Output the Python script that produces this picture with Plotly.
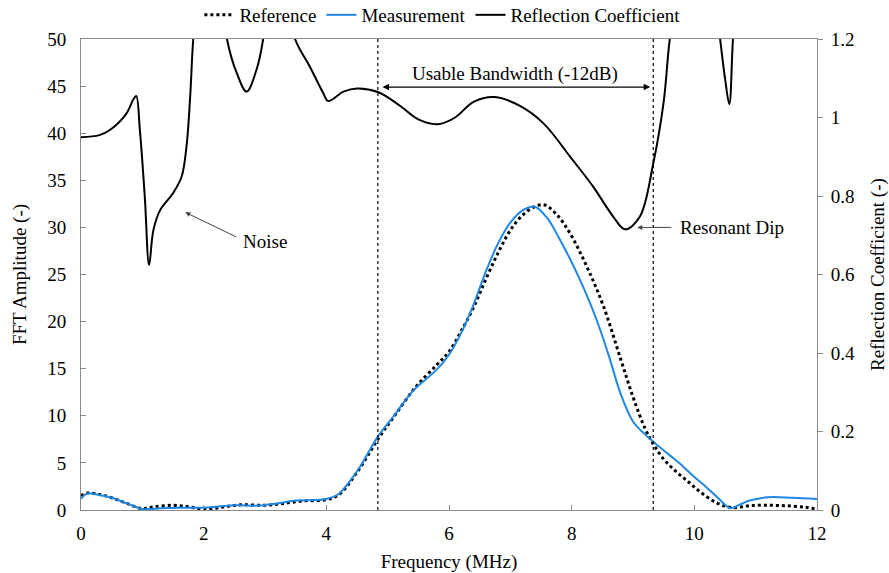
import plotly.graph_objects as go

# Reference FFT spectrum (left axis)
ref_freq = [0.0, 0.1, 0.3, 0.5, 0.75, 1.0, 1.2, 1.5, 1.75, 2.0, 2.3, 2.6, 3.0, 3.3, 3.6,
            4.0, 4.2, 4.5, 4.85, 5.1, 5.45, 5.8, 6.0, 6.2, 6.4, 6.6, 6.8, 7.0, 7.2, 7.4,
            7.55, 7.75, 7.97, 8.25, 8.52, 8.8, 9.0, 9.2, 9.33, 9.5, 9.7, 9.9, 10.1,
            10.37, 10.63, 10.9, 11.2, 11.5, 11.8, 12.0]
ref_amp = [1.5, 1.8, 1.65, 1.3, 0.7, 0.15, 0.35, 0.5, 0.35, 0.05, 0.3, 0.55, 0.5, 0.7, 0.95,
           1.1, 1.6, 4.0, 7.6, 9.9, 13.0, 15.4, 16.8, 19.0, 21.5, 24.5, 27.3, 29.7, 31.3,
           32.2, 32.4, 31.4, 29.4, 25.8, 21.6, 16.0, 12.0, 8.6, 7.0, 5.4, 4.1, 3.0, 1.9,
           0.74, 0.25, 0.46, 0.5, 0.45, 0.3, 0.1]

# Measured FFT spectrum (left axis)
meas_freq = [0.0, 0.1, 0.3, 0.5, 0.75, 1.0, 1.3, 1.6, 2.0, 2.5, 2.9, 3.2, 3.5, 3.8, 4.0,
             4.2, 4.4, 4.55, 4.85, 5.09, 5.42, 5.8, 6.0, 6.2, 6.4, 6.6, 6.8, 7.0, 7.2,
             7.4, 7.6, 7.8, 8.0, 8.2, 8.4, 8.6, 8.8, 9.0, 9.2, 9.33, 9.6, 9.82, 10.0,
             10.2, 10.4, 10.58, 10.75, 10.9, 11.2, 11.6, 12.0]
meas_amp = [1.2, 1.75, 1.6, 1.3, 0.7, 0.1, 0.18, 0.25, 0.24, 0.5, 0.47, 0.7, 1.0, 1.05, 1.17,
            1.7, 3.2, 4.6, 7.9, 9.9, 12.7, 14.9, 16.5, 18.8, 21.8, 25.3, 28.3, 30.5, 31.8,
            32.2, 31.0, 28.8, 26.3, 23.5, 20.3, 16.5, 12.3, 9.4, 8.0, 7.25, 5.8, 4.6, 3.5,
            2.4, 1.2, 0.2, 0.6, 1.0, 1.35, 1.3, 1.17]

# Reflection coefficient (right axis)
refl_freq = [0.0, 0.3, 0.47, 0.74, 0.85, 0.9, 0.96, 1.04, 1.11, 1.18, 1.29, 1.5, 1.64,
             1.72, 1.78, 1.83, 2.0, 2.2, 2.38, 2.54, 2.7, 2.86, 2.97, 3.1, 3.3, 3.49,
             3.73, 3.95, 4.03, 4.28, 4.5, 4.84, 5.2, 5.5, 5.82, 6.1, 6.4, 6.75, 7.15,
             7.54, 8.0, 8.35, 8.68, 8.87, 9.11, 9.33, 9.5, 9.6, 9.8, 10.1, 10.3, 10.42,
             10.5, 10.57, 10.63, 10.75, 11.0, 12.0]
refl_coef = [0.95, 0.955, 0.968, 1.01, 1.045, 1.055, 0.968, 0.798, 0.624, 0.713, 0.764,
             0.807, 0.849, 0.926, 1.053, 1.2, 1.5, 1.45, 1.2, 1.113, 1.066, 1.121, 1.2,
             1.4, 1.35, 1.2, 1.13, 1.062, 1.042, 1.066, 1.074, 1.065, 1.03, 0.995,
             0.983, 1.0, 1.04, 1.052, 1.03, 0.985, 0.895, 0.824, 0.747, 0.715, 0.747,
             0.883, 1.04, 1.2, 1.4, 1.5, 1.35, 1.2, 1.1, 1.034, 1.2, 1.45, 1.6, 1.6]

# Edges of the -12 dB usable band
band_edges = [4.84, 9.33]

FONT = "Liberation Serif"
FS = 19
AXIS_GREY = "#8c8c8c"

fig = go.Figure()
fig.add_trace(go.Scatter(x=ref_freq, y=ref_amp, name="Reference", mode="lines",
                         line=dict(color="black", width=3, dash="dot", shape="spline")))
fig.add_trace(go.Scatter(x=meas_freq, y=meas_amp, name="Measurement", mode="lines",
                         line=dict(color="#1E88E5", width=2, shape="spline")))
fig.add_trace(go.Scatter(x=refl_freq, y=refl_coef, name="Reflection Coefficient",
                         mode="lines", yaxis="y2",
                         line=dict(color="black", width=2, shape="spline")))

for edge in band_edges:
    fig.add_shape(type="line", xref="x", yref="paper", x0=edge, x1=edge, y0=0, y1=1,
                  line=dict(color="black", width=1.2, dash="dot"))

annotations = [
    # double-headed bandwidth arrow
    dict(x=band_edges[1] - 0.05, y=44.9, ax=band_edges[0] + 0.05, ay=44.9,
         xref="x", yref="y", axref="x", ayref="y", text="", showarrow=True,
         arrowhead=2, startarrowhead=2, arrowside="end+start", arrowsize=1,
         arrowwidth=1.3, arrowcolor="black"),
    dict(x=7.08, y=46.3, xref="x", yref="y", text="Usable Bandwidth (-12dB)",
         showarrow=False, font=dict(family=FONT, size=FS, color="black")),
    # noise pointer
    dict(x=1.7, y=31.6, ax=2.56, ay=28.9, xref="x", yref="y", axref="x", ayref="y",
         text="", showarrow=True, arrowhead=2, arrowsize=1, arrowwidth=1,
         arrowcolor="#444444"),
    dict(x=3.0, y=28.5, xref="x", yref="y", text="Noise", showarrow=False,
         font=dict(family=FONT, size=FS, color="black")),
    # resonant dip pointer
    dict(x=9.07, y=30.0, ax=9.65, ay=30.0, xref="x", yref="y", axref="x", ayref="y",
         text="", showarrow=True, arrowhead=2, arrowsize=1, arrowwidth=1,
         arrowcolor="#444444"),
    dict(x=10.62, y=30.0, xref="x", yref="y", text="Resonant Dip", showarrow=False,
         font=dict(family=FONT, size=FS, color="black")),
]

fig.update_layout(
    width=889, height=573,
    margin=dict(l=81, r=72, t=39, b=63, autoexpand=False),
    paper_bgcolor="white", plot_bgcolor="white",
    font=dict(family=FONT, size=FS, color="black"),
    showlegend=True,
    legend=dict(orientation="h", x=0.491, xanchor="center", y=1.051, yanchor="middle",
                font=dict(family=FONT, size=FS, color="black"),
                bgcolor="rgba(0,0,0,0)", itemwidth=30),
    annotations=annotations,
    xaxis=dict(range=[0, 12], dtick=2, tick0=0, showgrid=False, zeroline=False,
               showline=True, linecolor=AXIS_GREY, linewidth=1, mirror=True,
               ticks="inside", ticklen=5, tickcolor=AXIS_GREY,
               ticklabelstandoff=6, automargin=False,
               title=dict(text="Frequency (MHz)", standoff=12,
                          font=dict(family=FONT, size=FS))),
    yaxis=dict(range=[0, 50], dtick=5, tick0=0, showgrid=False, zeroline=False,
               showline=True, linecolor=AXIS_GREY, linewidth=1,
               ticks="inside", ticklen=5, tickcolor=AXIS_GREY,
               ticklabelstandoff=10, automargin=False,
               title=dict(text="FFT Amplitude (-)", standoff=15,
                          font=dict(family=FONT, size=FS))),
    yaxis2=dict(range=[0, 1.2], dtick=0.2, tick0=0, overlaying="y", side="right",
                showgrid=False, zeroline=False, showline=True, linecolor=AXIS_GREY,
                linewidth=1, ticks="outside", ticklen=5, tickcolor=AXIS_GREY,
                ticklabelstandoff=4, automargin=False,
                title=dict(text="Reflection Coefficient (-)", standoff=24,
                           font=dict(family=FONT, size=FS))),
)

fig.write_html("out.html")
